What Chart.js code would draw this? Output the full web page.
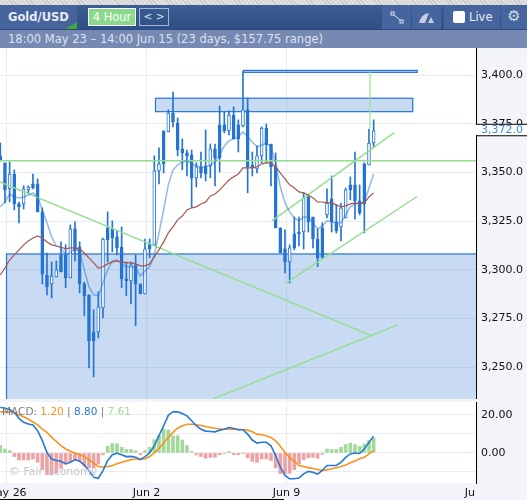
<!DOCTYPE html>
<html>
<head>
<meta charset="utf-8">
<title>Gold/USD</title>
<script src="https://cdn.jsdelivr.net/npm/chart.js@4/dist/chart.umd.min.js"></script>
<style>
  html, body { margin: 0; padding: 0; background: #fff; }
  #wrap { position: relative; width: 527px; height: 500px; overflow: hidden; background: #f3f4f9;
          font-family: "DejaVu Sans", sans-serif; }
  #hatch { position: absolute; left: 0; top: 0; width: 527px; height: 5px;
           background: repeating-linear-gradient(45deg, #c9c9c9 0 1px, #e2e2e2 1px 3px); }
  #topbar { position: absolute; left: 0; top: 5px; width: 527px; height: 24px;
            background: linear-gradient(#3b5d93, #2f5086); }
  #subbar { position: absolute; left: 0; top: 29px; width: 527px; height: 20px; background: #7689b3;
            border-top: 1px solid #2c4a7c; box-sizing: border-box;
            color: #dde3ee; font-size: 11.5px; line-height: 19px; padding-left: 8px; white-space: nowrap; }
  .seg { position: absolute; top: 0; height: 24px; background: #46659f; }
  #symbol { left: 0; width: 77px; color: #e8ebf2; font-weight: bold; font-size: 11.5px; line-height: 24px;
            text-indent: 8px; }
  #symbol i { position: absolute; right: 0; bottom: 0; width: 0; height: 0;
              border-left: 12px solid transparent; border-bottom: 7px solid #3fa83f; }
  #period { position: absolute; left: 88px; top: 3px; width: 48px; height: 18px; box-sizing: border-box;
            border: 1px solid #fff; background: #8ad88a; color: #fff; font-size: 11.5px;
            line-height: 16px; text-align: center; }
  #nav { position: absolute; left: 139px; top: 3px; width: 30px; height: 18px; box-sizing: border-box;
         border: 1px solid #a9b6d0; color: #dfe4ee; font-size: 10.5px;
         line-height: 14px; text-align: center; }
  #live { left: 444px; width: 56px; color: #e8ebf2; font-size: 11.5px; line-height: 24px; text-indent: 25px; }
  #live i { position: absolute; left: 9px; top: 6px; width: 12px; height: 12px; background: #fff;
            border-radius: 2px; }
  #gear { left: 501px; width: 26px; color: #d5dbe8; font-size: 15px; line-height: 23px; text-align: center; }
  #mainChart { position: absolute; left: 0; top: 48px; }
  #macdChart { position: absolute; left: 0; top: 402px; }
  #macdLegend { position: absolute; left: 2px; top: 405px; font-size: 10.5px; color: #7c7c7c; white-space: nowrap; }
  #watermark { position: absolute; left: 9px; top: 465px; font-size: 11px; color: #c4c4c4; white-space: nowrap; }
  #baseline { position: absolute; left: 0; top: 499px; width: 284px; height: 1px; background: #000; }
</style>
</head>
<body>
<div id="wrap">
  <div id="hatch"></div>
  <div id="topbar">
    <div class="seg" id="symbol">Gold/USD<i></i></div>
    <div id="period">4 Hour</div>
    <div id="nav">&lt; &gt;</div>
    <div class="seg" style="left:382px;width:29px">
      <svg width="29" height="24"><rect x="9" y="7" width="3" height="3" fill="none" stroke="#dfe4ee"/><rect x="18" y="15" width="3" height="3" fill="none" stroke="#dfe4ee"/><path d="M12 10 L18 15" stroke="#dfe4ee"/></svg>
    </div>
    <div class="seg" style="left:412px;width:29px">
      <svg width="29" height="24"><path d="M7 18 Q9 9 17 8 L13 18 Z" fill="#c6cfdf"/><path d="M19 12 L22 18 L16 18 Z" fill="#c6cfdf"/></svg>
    </div>
    <div class="seg" id="live"><i></i>Live</div>
    <div class="seg" id="gear">&#9881;</div>
  </div>
  <div id="subbar">18:00 May 23 – 14:00 Jun 15 (23 days, $157.75 range)</div>
  <canvas id="mainChart" width="527" height="351"></canvas>
  <canvas id="macdChart" width="527" height="98"></canvas>
  <div id="macdLegend">MACD: <span style="color:#f7931e">1.20</span> | <span style="color:#2a78d6">8.80</span> | <span style="color:#a3d99a">7.61</span></div>
  <div id="watermark">© Fair Economy</div>
  <div id="baseline"></div>
</div>

<script>
// Candles, oldest first (4 hour bars)
const opens = [3358.6,3355,3341.6,3349.3,3333.9,3333.9,3341.1,3344.2,3344.2,3329.8,3297.4,3292.8,3296.4,3307.7,3307.7,3295.9,3321.1,3311.8,3292.8,3287.2,3268.2,
  3268.2,3280.5,3321.6,3321.1,3317,3311.8,3295.4,3294.4,3302.6,3292.8,3287.7,3313.4,3312.9,3350.9,3371.4,3370.9,3380.6,3375.5,3362.2,3360.1,
  3359.1,3347.3,3352.9,3353.4,3353.4,3362.2,3374.5,3374.5,3371.4,3379.6,3374.5,3374,3382.2,3353.9,3351.9,3358.6,3372.9,3364.7,3352.9,3321.6,
  3310.8,3304.1,3318.5,3319.5,3319.5,3337.5,3327.2,3315.9,3321.6,3328.3,3336.5,3324.7,3322.1,3326.7,3343.7,3343.7,3335.5,3354.5,3353.9,3365.2];
const highs = [3365.2,3355,3355.5,3351.4,3334.9,3343.2,3343.2,3349.3,3346.8,3331.9,3308.7,3304.1,3304.6,3314.4,3312.9,3323.1,3324.7,3314.4,3293.8,3287.2,3279.5,
  3288.7,3316.4,3329.8,3325.2,3320,3322.1,3304.1,3304.1,3307.7,3292.8,3315.9,3315.9,3358.6,3362.7,3371.4,3382.2,3391.4,3378.1,3367.3,3361.6,
  3361.6,3355,3360.6,3371.9,3364.7,3364.7,3384.2,3381.2,3381.7,3383.7,3377.1,3401.9,3388.4,3360.6,3363.7,3373.5,3375,3364.7,3360.1,3321.6,
  3320.6,3312.9,3327.2,3327.2,3339.6,3338,3327.2,3321.1,3324.2,3341.6,3348.3,3333.4,3334.4,3342.1,3347.8,3360.6,3343.7,3355,3372.4,3377.1];
const lows = [3356,3334.4,3334.9,3330.8,3324.2,3331.3,3339.6,3341.6,3329.8,3292.8,3287.2,3285.6,3296.4,3299,3290.8,3295.9,3304.6,3288.2,3276.4,3249.7,3245.1,
  3265.1,3275.4,3304.1,3309.3,3307.7,3290.8,3286.7,3282.5,3271.3,3287.7,3287.7,3306.2,3312.9,3344.2,3349.8,3370.9,3373.5,3358.6,3351.4,3348.3,
  3332.4,3342.6,3347.3,3345.7,3347.3,3343.2,3350.3,3370.4,3369.3,3367.3,3360.6,3373.5,3339.6,3348.3,3349.8,3355,3355,3343.2,3321.6,3308.7,
  3298.5,3293.3,3310.3,3312.3,3310.8,3319.5,3311.3,3301.6,3306.2,3326.7,3319.5,3319,3314.9,3326.7,3336,3326.2,3328.3,3319,3353.9,3362.7];
const closes = [3356,3341.1,3349.3,3333.9,3332.4,3341.6,3342.6,3342.1,3329.8,3298,3291.3,3296.9,3300,3299,3295.9,3321.1,3309.8,3292.8,3286.7,3263.5,3263.5,
  3281,3315.9,3315.4,3316.4,3311.3,3295.4,3294.4,3302.6,3292.8,3287.7,3310.8,3310.8,3350.9,3354.5,3354.5,3380.6,3376,3361.6,3360.1,3358.6,
  3347.3,3352.9,3349.8,3349.3,3362.2,3357.5,3357.5,3371.4,3379.6,3367.3,3367.3,3382.2,3352.9,3352.4,3358.6,3372.9,3364.2,3352.9,3321.6,3308.7,
  3304.1,3311.3,3311.3,3318.5,3337,3324.7,3315.9,3306.2,3306.2,3334.4,3324.7,3320,3331.9,3341.1,3341.1,3335.5,3329.3,3333.9,3365.2,3371.4];

// Moving averages on the price panel
const fastMa = [3332.4,3334.9,3339,3337.5,3337,3337.5,3338.5,3339.6,3337.5,3330.8,3324.2,3317,3312.3,3311.3,3307.7,3308.7,3311.3,3309.3,3300,3291.3,3287.2,
  3286.7,3293.3,3300,3304.6,3305.1,3303.1,3301.6,3301.6,3301,3296.9,3299.5,3301.6,3307.7,3319,3330.8,3343.7,3351.4,3353.9,3355.5,3356,
  3354.5,3353.4,3352.9,3352.9,3353.9,3355.5,3359.1,3363.7,3366.3,3367.3,3368.3,3370.9,3368.3,3365.7,3363.2,3364.2,3365.2,3363.2,3355,3342.6,
  3334.4,3329.8,3326.7,3325.2,3327.2,3327.2,3324.2,3321.1,3322.6,3325.2,3324.7,3324.2,3324.2,3328.3,3332.4,3333.9,3334.4,3334.9,3342.1,3349.3];
const slowMa = [3297.4,3301,3305.1,3307.7,3310.3,3312.9,3314.9,3316.4,3317.5,3316.4,3314.4,3312.9,3312.3,3311.8,3310.8,3311.3,3311.3,3310.8,3308.7,3306.2,3303.6,
  3301,3301.6,3303.1,3304.1,3304.6,3304.1,3303.6,3303.6,3303.1,3302.1,3302.1,3303.1,3306.7,3310.3,3314.4,3319,3322.1,3325.7,3327.7,3330.8,
  3331.9,3332.4,3333.9,3334.9,3338,3339,3341.1,3343.7,3346.2,3347.8,3349.3,3352.4,3352.4,3352.4,3352.9,3354.5,3355,3355,3352.9,3349.8,
  3346.8,3343.7,3342.1,3340.1,3339.6,3338.5,3337,3334.9,3334.9,3334.4,3334.4,3333.4,3332.4,3332.9,3333.9,3334.4,3333.9,3334.4,3337.5,3339.6];

// MACD panel
const macdLine = [24,23.5,22.8,21.4,18.2,16.1,15.2,14.7,11.7,6.5,0.3,-3.2,-4,-4.4,-5.8,-4.9,-3.5,-4.4,-6.3,-9.3,-12.8,
  -13.3,-9.3,-4,-0.9,-0.2,-1,-1.9,-1.8,-2.3,-3.5,-1.9,0,3.8,9.1,14.3,19.8,21.7,21.6,20.7,19.5,
  16.9,14.3,12.5,11.5,11.3,11.1,12,12.5,13.4,12.9,12.2,12.2,9.9,6.8,5.2,5.6,5.6,3.8,-1.4,-7.5,
  -11.8,-13.6,-13.6,-13.2,-11,-9.7,-10.1,-11.1,-9.2,-6.6,-6.6,-6.6,-4.9,-2.3,-0.5,0,-0.3,2.1,5.6,8.8];
const signalLine = [21.6,21.6,21.6,21.2,20,19,17.7,16.3,14.8,12.5,10.8,8.2,6.1,3.8,2.1,0.9,0,-0.9,-1.9,-3.5,-5.4,
  -7.1,-7.5,-7.1,-6.6,-5.7,-4.9,-4.2,-3.5,-3.2,-3.2,-3.2,-1.9,0,2.4,5.2,8.2,10.8,13,14.3,15.1,
  15.1,14.8,14.4,13.9,13.4,13,12.7,12.5,12.5,12.5,12.3,12.3,12,11.1,9.9,9.6,9,8.2,6.4,3.5,
  0.3,-2.3,-4.5,-6.6,-7.1,-7.7,-8.2,-8.7,-9.2,-8.9,-8.3,-7.8,-7.1,-6.3,-5.2,-4.2,-3.1,-2.3,-0.5,1.2];
const macdHist = [3.9,2.1,1.2,-1.9,-3.7,-3.7,-3.7,-3.2,-4.9,-8.8,-11.4,-11.6,-10.5,-8.1,-5.8,-4.9,-4,-4.2,-7,-7.9,-8.1,
  -5.8,-1,3.5,4.9,4.9,3,1.8,1.8,1.2,-1,1.2,3,7,9.1,12.6,12.1,9.1,9.1,6.8,3.9,
  0.7,-1,-1.9,-2.8,-2.3,-2.3,-0.9,-0.2,0.7,-0.9,-0.9,-0.2,-2.6,-4.4,-4.9,-3.2,-3.2,-4,-7.9,-10.9,
  -10.9,-10.7,-8.8,-5.8,-3.5,-2.6,-2.3,-2.8,-0.7,2.1,1.8,1.8,3,4.4,5.1,4.4,3.5,4.7,6.5,7.61];

// Axis ticks
const priceTicks = [3250, 3275, 3300, 3325, 3350, 3375, 3400];
const macdTicks = [20, 10, 0, -10];
const macdLabelled = [20, 0];
const dateTicks = [1.33, 31.33, 61.33];
const dateLabels = ['May 26', 'Jun 2', 'Jun 9'];
const clippedDateTick = 100.6;
const clippedDateLabel = 'Ju';
const lastPrice = 3372;

// Drawn objects, in candle index / price
const levelLine = [{ x: -1, y: 3356.1 }, { x: 103, y: 3356.1 }];
const spikeLine = [{ x: 79.2, y: 3402 }, { x: 79.2, y: 3372.9 }];
const fallLine = [{ x: -0.1, y: 3345.2 }, { x: 79.65, y: 3266.1 }];
const riseLine = [{ x: 45.6, y: 3233.75 }, { x: 85.2, y: 3271.8 }];
const channelTop = [{ x: 58.2, y: 3325.2 }, { x: 84.4, y: 3370.5 }];
const channelBottom = [{ x: 61.2, y: 3293.2 }, { x: 89.3, y: 3337.7 }];
const zoneStart = [1.33, 33.25, 52.07];
const zoneEnd = [110, 88.37, 89.35];
const zoneTop = [3308.2, 3388.2, 3402.5];
const zoneBottom = [3200, 3381.3, 3401.5];

const BLUE = '#2574d4';
const GREEN = '#93de8c';
const GRID = '#e8ecf4';
const PANEL = '#f3f4f9';
const AXIS_WIDTH = 51;
const PX_PER_BAR = 4.667;
const X_MIN = -0.064;
const X_MAX = X_MIN + (527 - AXIS_WIDTH) / PX_PER_BAR;
const FONT = { family: '"DejaVu Sans", sans-serif', size: 11 };

const series = (values) => values.map((v, i) => ({ x: i, y: v }));
const isUp = (i) => closes[i] > opens[i];

// Labels at the ends of an axis must not push the plot area in
function noLabelPadding(s) {
  s.paddingTop = 0;
  s.paddingBottom = 0;
  s.paddingLeft = 0;
  s.paddingRight = 0;
}

function greenLine(data, extra) {
  return Object.assign({
    type: 'line', data, borderColor: GREEN, borderWidth: 1.4,
    pointRadius: 0, tension: 0, order: 3,
  }, extra || {});
}

// White plot area on the grey page
const background = {
  id: 'background',
  beforeDraw(chart) {
    const { ctx, chartArea: a } = chart;
    ctx.save();
    ctx.fillStyle = PANEL;
    ctx.fillRect(0, 0, chart.width, chart.height);
    ctx.fillStyle = '#fff';
    ctx.fillRect(a.left, a.top, a.right - a.left, a.bottom - a.top);
    ctx.restore();
  },
};

// Rectangles marked on the chart, under the candles
const zones = {
  id: 'zones',
  beforeDatasetsDraw(chart) {
    const { ctx, chartArea: a, scales: { x, y } } = chart;
    ctx.save();
    ctx.beginPath();
    ctx.rect(a.left, a.top, a.right - a.left, a.bottom - a.top);
    ctx.clip();
    zoneStart.forEach((start, i) => {
      const left = x.getPixelForValue(start);
      const top = y.getPixelForValue(zoneTop[i]);
      const w = x.getPixelForValue(zoneEnd[i]) - left;
      const h = y.getPixelForValue(zoneBottom[i]) - top;
      ctx.fillStyle = 'rgba(36,110,205,0.25)';
      ctx.fillRect(left, top, w, h);
      ctx.strokeStyle = BLUE;
      ctx.lineWidth = 1.2;
      ctx.strokeRect(left, top, w, h);
    });
    ctx.restore();
  },
};

// Last price tag on the axis
const priceTag = {
  id: 'priceTag',
  afterDraw(chart) {
    const { ctx, chartArea: a, scales: { y } } = chart;
    const py = y.getPixelForValue(lastPrice);
    ctx.save();
    ctx.fillStyle = '#fff';
    ctx.fillRect(a.right, py - 5.5, AXIS_WIDTH, 11);
    ctx.fillStyle = '#000';
    ctx.fillRect(a.right, py - 6, AXIS_WIDTH, 1);
    ctx.fillRect(a.right, py + 5.5, AXIS_WIDTH, 1);
    ctx.fillStyle = '#3d8be0';
    ctx.font = '11px "DejaVu Sans", sans-serif';
    ctx.textBaseline = 'middle';
    ctx.fillText(lastPrice.toLocaleString('en-US', { minimumFractionDigits: 1 }), a.right + 5, py);
    ctx.restore();
  },
};

function xScale(withLabels) {
  return {
    type: 'linear',
    min: X_MIN,
    max: X_MAX,
    offset: false,
    afterBuildTicks: (s) => {
      s.ticks = dateTicks.map((v) => ({ value: v }));
      if (withLabels) s.ticks.push({ value: clippedDateTick });
    },
    afterFit: (s) => {
      noLabelPadding(s);
      s.height = withLabels ? 17 : 0;
    },
    grid: {
      offset: false,
      drawTicks: false,
      color: (c) => (c.tick && c.tick.value === clippedDateTick ? 'transparent' : GRID),
    },
    border: { display: false },
    ticks: {
      display: withLabels,
      autoSkip: false,
      maxRotation: 0,
      padding: 4,
      color: '#111',
      font: FONT,
      callback: (v) => (v === clippedDateTick ? clippedDateLabel : dateLabels[dateTicks.indexOf(v)]),
    },
  };
}

function yScale(min, max, tickValues, format) {
  return {
    position: 'right',
    min,
    max,
    afterBuildTicks: (s) => { s.ticks = tickValues.map((v) => ({ value: v })); },
    afterFit: (s) => {
      noLabelPadding(s);
      s.width = AXIS_WIDTH;
    },
    grid: { color: GRID, drawTicks: false },
    border: { color: '#000', width: 1 },
    ticks: { autoSkip: false, padding: 5, color: '#111', font: FONT, callback: format },
  };
}

const baseOptions = {
  responsive: false,
  animation: false,
  events: [],
  layout: { padding: 0 },
  plugins: { legend: { display: false }, tooltip: { enabled: false } },
};

new Chart(document.getElementById('mainChart'), {
  type: 'bar',
  data: {
    datasets: [
      greenLine(levelLine),
      greenLine(spikeLine, { borderColor: 'rgba(147,222,140,0.55)', borderWidth: 2 }),
      greenLine(fallLine),
      greenLine(riseLine),
      greenLine(channelTop),
      greenLine(channelBottom),
      {
        type: 'line', data: series(fastMa), borderColor: 'rgba(37,116,212,0.5)', borderWidth: 1.5,
        pointRadius: 0, tension: 0, order: 2,
      },
      {
        type: 'line', data: series(slowMa), borderColor: '#a9564e', borderWidth: 1.2,
        pointRadius: 0, tension: 0, order: 1,
      },
      // wicks
      {
        data: highs.map((h, i) => ({ x: i, y: [lows[i], h] })),
        backgroundColor: BLUE, barThickness: 1, grouped: false, order: 6,
      },
      // bodies
      {
        data: opens.map((o, i) => ({ x: i, y: [o, closes[i]] })),
        backgroundColor: opens.map((o, i) => (isUp(i) ? '#fff' : BLUE)),
        borderColor: BLUE, borderWidth: 1, borderSkipped: false,
        barThickness: 3, grouped: false, order: 5,
      },
    ],
  },
  options: Object.assign({}, baseOptions, {
    scales: {
      x: xScale(false),
      y: yScale(3233.7, 3414, priceTicks, (v) => v.toLocaleString('en-US', { minimumFractionDigits: 1 })),
    },
  }),
  plugins: [background, zones, priceTag],
});

new Chart(document.getElementById('macdChart'), {
  type: 'bar',
  data: {
    datasets: [
      {
        type: 'line', data: series(signalLine), borderColor: '#f7931e', borderWidth: 1.6,
        pointRadius: 0, tension: 0, order: 2,
      },
      {
        type: 'line', data: series(macdLine), borderColor: '#2a78d6', borderWidth: 1.6,
        pointRadius: 0, tension: 0, order: 1,
      },
      {
        data: series(macdHist),
        backgroundColor: macdHist.map((v) => (v >= 0 ? '#a3d99a' : '#eda3a3')),
        barThickness: 3, grouped: false, order: 3,
      },
    ],
  },
  options: Object.assign({}, baseOptions, {
    scales: {
      x: xScale(true),
      y: yScale(-15.8, 26.8, macdTicks, (v) => (macdLabelled.includes(v) ? v.toFixed(2) : '')),
    },
  }),
  plugins: [background],
});
</script>
</body>
</html>
